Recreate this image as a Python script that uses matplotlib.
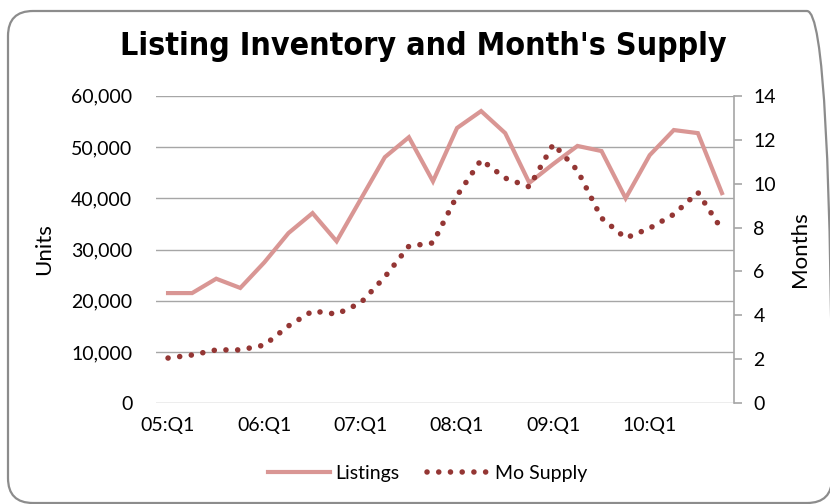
#!/usr/bin/env python3

import matplotlib

matplotlib.use("Agg")

import matplotlib.pyplot as plt
from matplotlib.patches import FancyBboxPatch
from matplotlib.transforms import IdentityTransform
from matplotlib.ticker import FuncFormatter

plt.rcParams["font.family"] = ["Lato", "DejaVu Sans"]

QUARTERS = [f"{yy:02d}:Q{q}" for yy in range(5, 11) for q in range(1, 5)]

LISTINGS = [
    21500, 21500, 24300, 22500, 27500, 33200, 37100, 31600,
    39800, 48000, 51900, 43300, 53700, 57000, 52700, 43000,
    46700, 50200, 49200, 40000, 48400, 53300, 52700, 41000,
]

MO_SUPPLY = [
    2.06, 2.2, 2.43, 2.43, 2.65, 3.52, 4.2, 4.06,
    4.57, 5.75, 7.15, 7.3, 9.45, 11.08, 10.25, 9.85,
    11.8, 10.6, 8.43, 7.52, 7.97, 8.6, 9.6, 7.9,
]

TICK_LABELS = ["05:Q1", "06:Q1", "07:Q1", "08:Q1", "09:Q1", "10:Q1"]

LISTINGS_COLOR = "#D99694"
SUPPLY_COLOR = "#943634"
GRID_COLOR = "#A6A6A6"


def main():
    fig = plt.figure(figsize=(8.3, 5.04), dpi=100)

    # rounded chart-area frame, drawn in pixel coordinates
    frame = FancyBboxPatch(
        (8, 1), 824, 492,
        boxstyle="round,pad=0,rounding_size=25",
        transform=IdentityTransform(),
        facecolor="none", edgecolor="#8C8C8C", linewidth=1.6,
        zorder=-1,
    )
    fig.patches.append(frame)

    ax = fig.add_axes([156 / 830, 1 - 403.3 / 504, (734 - 156) / 830, (403.3 - 95.7) / 504])
    ax.set_facecolor("none")
    ax2 = ax.twinx()

    x = list(range(len(QUARTERS)))
    l1, = ax.plot(x, LISTINGS, color=LISTINGS_COLOR, linewidth=3.0,
                  solid_joinstyle="miter", label="Listings", zorder=3)
    l2, = ax2.plot(x, MO_SUPPLY, color=SUPPLY_COLOR, linewidth=4.0,
                   linestyle=(0, (0.01, 2.1)), dash_capstyle="round",
                   label="Mo Supply", zorder=3)

    ax.set_xlim(-0.5, len(QUARTERS) - 0.5)
    ax.set_ylim(0, 60000)
    ax.set_yticks(range(0, 60001, 10000))
    ax.yaxis.set_major_formatter(FuncFormatter(lambda v, _: f"{int(v):,}"))
    ax2.set_ylim(0, 14)
    ax2.set_yticks(range(0, 15, 2))

    ax.set_xticks([QUARTERS.index(t) for t in TICK_LABELS])
    ax.set_xticklabels(TICK_LABELS)

    ax.grid(True, axis="y", color=GRID_COLOR, linewidth=1.0)
    ax.set_axisbelow(True)

    for spine in ["left", "top", "bottom"]:
        ax.spines[spine].set_visible(False)
        ax2.spines[spine].set_visible(False)
    ax.spines["right"].set_visible(False)
    ax2.spines["right"].set_color(GRID_COLOR)
    ax2.spines["right"].set_linewidth(1.2)

    ax.tick_params(axis="y", length=0, pad=17, labelsize=14)
    ax.tick_params(axis="x", length=0, pad=10, labelsize=14)
    ax2.tick_params(axis="y", length=6, width=1.2, color=GRID_COLOR,
                    pad=8, labelsize=14)

    ax.set_ylabel("Units", fontsize=16, labelpad=12)
    ax2.set_ylabel("Months", fontsize=16, labelpad=10)

    fig.text(0.51, 1 - 47 / 504, "Listing Inventory and Month's Supply",
             ha="center", va="center", fontsize=23, fontweight="bold",
             fontstretch="condensed", family=["DejaVu Sans"])

    fig.legend(
        [l1, l2], ["Listings", "Mo Supply"],
        loc="center", bbox_to_anchor=(0.515, 1 - 473 / 504),
        ncol=2, frameon=False, fontsize=14,
        handlelength=3.2, handletextpad=0.3, columnspacing=1.4,
    )

    fig.savefig("out.png", dpi=100)
    plt.close(fig)


if __name__ == "__main__":
    main()
